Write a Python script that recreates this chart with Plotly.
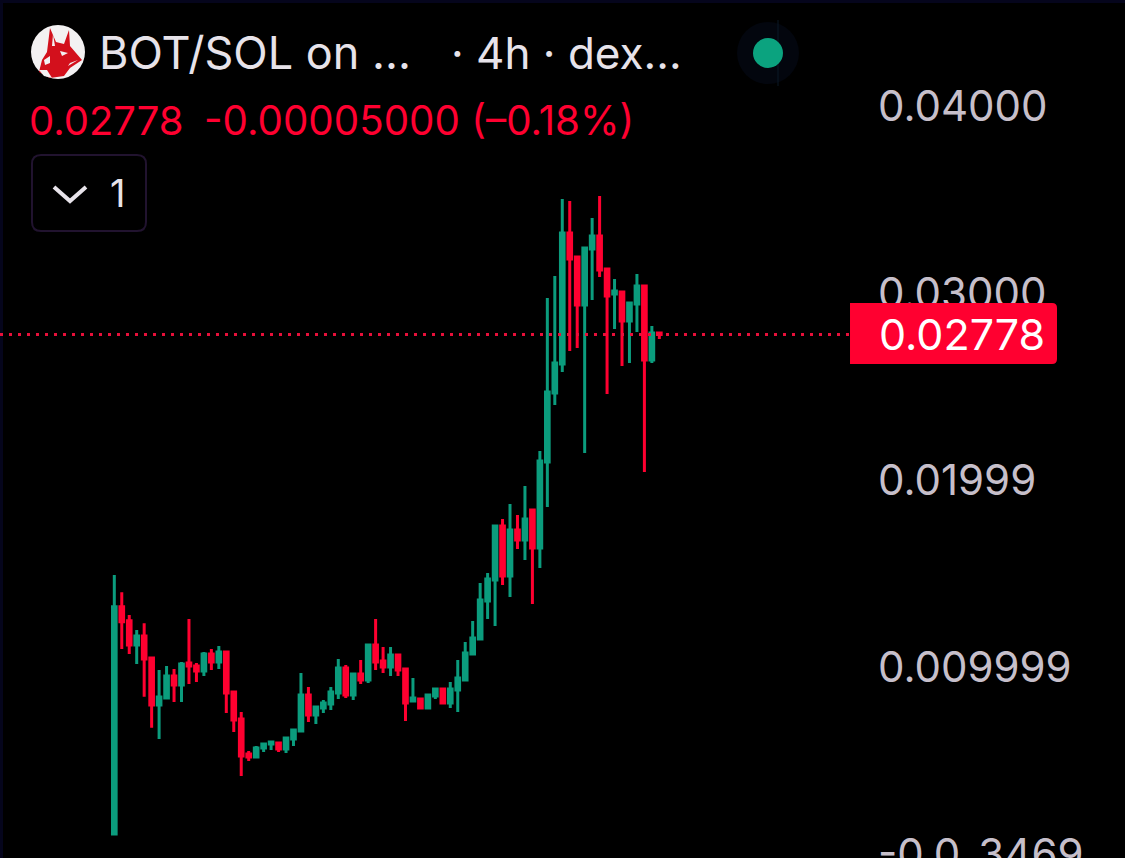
import plotly.graph_objects as go

W, H = 1125, 858
UP = "#0b9c7d"
DOWN = "#ff0030"
AXIS_TEXT = "#c6bfca"
TITLE_TEXT = "#e7e3ea"
FONT = "Inter"

candle_index = list(range(74))
opens = [.00107,.013225,.012476,.011176,.011658,.010481,.007968,.008342,.009519,.009037,
         .010214,.010053,.009786,.010695,.010267,.010802,.008663,.007219,.005348,.005187,
         .005668,.005882,.005936,.005615,.00615,.006578,.008503,.007433,.007807,.008021,
         .00861,.009947,.008503,.009626,.009305,.011176,.010321,.01,.010642,.009893,
         .008182,.008289,.007807,.008449,.008824,.008075,.00877,.009305,.010695,.011497,
         .013529,.014652,.01754,.014866,.017326,.016791,.018396,.016364,.020963,.024652,
         .026203,.033209,.031925,.029358,.032353,.033048,.031283,.029947,.030053,.028503,
         .029412,.030374,.026417,.027861]
highs = [.01492,.013995,.012781,.011979,.012337,.010481,.00984,.010053,.009893,.010267,
         .012567,.010214,.010802,.010963,.011123,.010802,.008717,.007594,.005508,.005775,
         .005936,.005989,.005989,.006203,.006685,.009679,.00893,.007861,.008235,.00893,
         .010428,.010107,.009679,.010374,.011176,.012567,.01107,.01107,.010642,.009947,
         .009412,.008289,.008556,.008824,.008824,.009198,.010374,.011337,.01246,.014492,
         .015027,.01754,.017914,.018717,.018128,.019679,.018396,.021551,.029733,.030909,
         .035027,.03492,.031925,.032406,.034011,.035187,.031283,.030749,.030053,.029465,
         .031016,.030428,.028235,.027914]
lows = [.00107,.010963,.010695,.01016,.008412,.006754,.00615,.008342,.008128,.008128,
        .009091,.009198,.009519,.00984,.009893,.00754,.006524,.004171,.004973,.005134,
        .005455,.005562,.005455,.005401,.005775,.006524,.007059,.006952,.00754,.007701,
        .008289,.008342,.008235,.009091,.009144,.00984,.009679,.009519,.009519,.007112,
        .008182,.007754,.007807,.008289,.008021,.007807,.007594,.009305,.010695,.011497,
        .012567,.012193,.014385,.013743,.01631,.015722,.013369,.015294,.018556,.024011,
        .025775,.026898,.027059,.021444,.029626,.030856,.024599,.028075,.026096,.026257,
        .027914,.020428,.026257,.02754]
closes = [.013225,.012422,.011176,.011658,.010428,.007968,.008396,.009519,.009037,.01016,
          .010053,.009786,.010695,.010267,.010802,.00861,.007166,.005241,.005187,.005668,
          .005882,.005989,.005615,.006203,.006631,.008503,.007433,.007861,.008075,.008663,
          .009947,.008503,.009626,.009305,.011176,.010267,.01,.010642,.00984,.008075,
          .008342,.007807,.008503,.008824,.008075,.008824,.009412,.010749,.011551,.013583,
          .014706,.01754,.014866,.017326,.016791,.017914,.016364,.021016,.024706,.026257,
          .033209,.031818,.029358,.032406,.033048,.03123,.02984,.030107,.028503,.029465,
          .030374,.026417,.027861,.02778]

tick_values = [0.04, 0.03, 0.02, 0.01, 0.0]
tick_labels = ["0.04000", "0.03000", "0.01999", "0.009999", "-0.0₋3469"]
last_price = 0.02778
header_title = "BOT/SOL on ..."
header_meta = "· 4h · dex..."
header_price = "0.02778"
header_change = "-0.00005000 (–0.18%)"


def px(x):
    return x / W


def py(y):
    return 1 - y / H


def path(points, close=True):
    s = "M" + " L".join(f"{px(a):.5f},{py(b):.5f}" for a, b in points)
    return s + (" Z" if close else "")


def pshape(points, fill, line=None, width=0, close=True):
    return dict(type="path", xref="paper", yref="paper", path=path(points, close),
                fillcolor=fill, line=dict(color=line or fill, width=width), layer="above")


def circle(cx, cy, r, fill):
    return dict(type="circle", xref="paper", yref="paper", x0=px(cx - r), x1=px(cx + r),
                y0=py(cy + r), y1=py(cy - r), fillcolor=fill, line=dict(width=0), layer="above")


def label(x, y, text, color, size):
    return dict(xref="paper", yref="paper", x=px(x), y=py(y), text=text, showarrow=False,
                xanchor="left", yanchor="middle", font=dict(family=FONT, size=size, color=color))


fig = go.Figure(go.Candlestick(
    x=candle_index, open=opens, high=highs, low=lows, close=closes,
    increasing=dict(line=dict(color=UP, width=3), fillcolor=UP),
    decreasing=dict(line=dict(color=DOWN, width=3), fillcolor=DOWN),
    whiskerwidth=0, hoverinfo="skip", showlegend=False,
))


def rounded_box(x0, y0, x1, y1, r):
    return (f"M{px(x0+r):.5f},{py(y0):.5f} L{px(x1-r):.5f},{py(y0):.5f} "
            f"Q{px(x1):.5f},{py(y0):.5f} {px(x1):.5f},{py(y0+r):.5f} "
            f"L{px(x1):.5f},{py(y1-r):.5f} Q{px(x1):.5f},{py(y1):.5f} {px(x1-r):.5f},{py(y1):.5f} "
            f"L{px(x0+r):.5f},{py(y1):.5f} Q{px(x0):.5f},{py(y1):.5f} {px(x0):.5f},{py(y1-r):.5f} "
            f"L{px(x0):.5f},{py(y0+r):.5f} Q{px(x0):.5f},{py(y0):.5f} {px(x0+r):.5f},{py(y0):.5f} Z")


price_box = (f"M{px(850):.5f},{py(303):.5f} L{px(1052):.5f},{py(303):.5f} "
             f"Q{px(1057):.5f},{py(303):.5f} {px(1057):.5f},{py(308):.5f} "
             f"L{px(1057):.5f},{py(359):.5f} Q{px(1057):.5f},{py(364):.5f} {px(1052):.5f},{py(364):.5f} "
             f"L{px(850):.5f},{py(364):.5f} Z")

shapes = [
    # edge tint
    dict(type="rect", xref="paper", yref="paper", x0=0, x1=px(3), y0=0, y1=1,
         fillcolor="#05051c", line=dict(width=0), layer="below"),
    dict(type="rect", xref="paper", yref="paper", x0=0, x1=1, y0=py(3), y1=1,
         fillcolor="#05051c", line=dict(width=0), layer="below"),
    # last price line
    dict(type="line", xref="paper", yref="y", x0=0, x1=px(850), y0=last_price, y1=last_price,
         line=dict(color="#e8103a", width=3, dash="3px,6px"), layer="above"),
    dict(type="path", xref="paper", yref="paper", path=price_box, fillcolor=DOWN,
         line=dict(width=0), layer="above"),
    # status dot
    circle(768, 53, 31, "#03060e"),
    dict(type="line", xref="paper", yref="paper", x0=px(778), x1=px(778), y0=py(20), y1=py(86),
         line=dict(color="#0a1826", width=1), layer="above"),
    circle(768, 53, 15, "#0ba37f"),
    # interval button
    dict(type="path", xref="paper", yref="paper", path=rounded_box(32, 155, 146, 231, 9),
         fillcolor="rgba(0,0,0,0)", line=dict(color="#21132f", width=2), layer="above"),
    pshape([(54, 187), (70, 201), (86, 187)], "rgba(0,0,0,0)", TITLE_TEXT, 4, close=False),
    # logo
    circle(58, 52, 27, "#f3f1f2"),
    pshape([(39, 72), (42, 60), (47, 52), (50, 28), (56, 42), (64, 44), (69, 30), (70, 46),
            (82, 60), (70, 68), (64, 76), (50, 78)], "#d3101c"),
    pshape([(60, 51), (68, 53), (62, 56)], "#f3f1f2"),
    pshape([(44, 60), (50, 56), (50, 63), (45, 65)], "#f3f1f2"),
    pshape([(53, 34), (55, 46), (52, 46)], "#f3f1f2"),
    pshape([(39, 70), (47, 70), (52, 78), (44, 76)], "#f3f1f2"),
    pshape([(68, 66), (78, 60), (70, 63)], "#f3f1f2"),
]

annotations = [
    label(97, 53, header_title, TITLE_TEXT, 45),
    label(449, 53, header_meta, TITLE_TEXT, 44),
    label(27, 120, header_price, DOWN, 40),
    label(202, 120, header_change, DOWN, 40.3),
    label(108, 193, "1", TITLE_TEXT, 38),
    label(877, 334, f"{last_price:.5f}", "#ffffff", 43),
]

fig.update_layout(
    width=W, height=H, autosize=False,
    margin=dict(l=0, r=0, t=0, b=0, autoexpand=False),
    paper_bgcolor="#000000", plot_bgcolor="#000000",
    showlegend=False, hovermode=False, dragmode=False,
    shapes=shapes, annotations=annotations,
    xaxis=dict(range=[-15.31, 135.37], visible=False, rangeslider=dict(visible=False),
               fixedrange=True),
    yaxis=dict(range=[-0.000214, 0.04567], anchor="free", position=px(877), side="right",
               tickmode="array", tickvals=tick_values, ticktext=tick_labels,
               tickfont=dict(family=FONT, size=42, color=AXIS_TEXT),
               ticklabeloverflow="allow",
               showgrid=False, zeroline=False, showline=False, ticks="", fixedrange=True),
)

fig.write_html("out.html", config=dict(displayModeBar=False),
               post_script="document.body.style.margin='0';document.documentElement.style.overflow='hidden';")
